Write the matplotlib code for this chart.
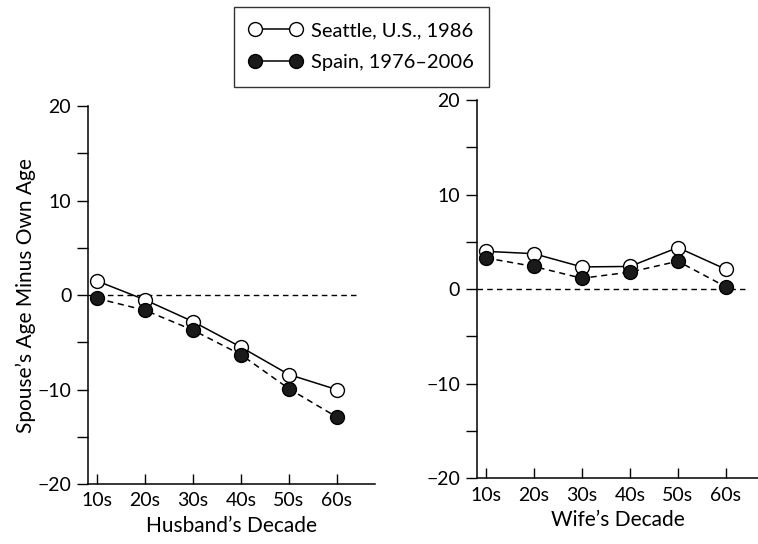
import matplotlib.pyplot as plt
from matplotlib.lines import Line2D
from matplotlib.ticker import MultipleLocator

plt.rcParams['font.family'] = ['Lato', 'DejaVu Sans']

decades = ['10s', '20s', '30s', '40s', '50s', '60s']

# husbands (left panel)
seattle_husband = [1.5, -0.5, -2.8, -5.5, -8.4, -10.0]
spain_husband = [-0.35, -1.6, -3.7, -6.3, -9.9, -12.9]

# wives (right panel)
seattle_wife = [4.0, 3.75, 2.35, 2.4, 4.4, 2.1]
spain_wife = [3.3, 2.4, 1.15, 1.8, 2.95, 0.25]

fig = plt.figure(figsize=(7.58, 5.44), dpi=100)
ax1 = fig.add_axes([0.116, 0.110, 0.379, 0.695])
ax2 = fig.add_axes([0.629, 0.121, 0.371, 0.695])

x = list(range(len(decades)))


def draw(ax, seattle, spain, xlabel):
    ax.hlines(0, -0.19, 5.4, colors='black', linestyles=(0, (4, 3)), linewidth=1.0, zorder=1)
    ax.plot(x, seattle, '-', color='black', linewidth=1.1, marker='o', markersize=10,
            markerfacecolor='white', markeredgecolor='black', markeredgewidth=1.0, zorder=2)
    ax.plot(x, spain, color='black', linestyle=(0, (4, 3)), linewidth=1.1, zorder=3)
    ax.plot(x, spain, linestyle='none', marker='o', markersize=10,
            markerfacecolor='#1a1a1a', markeredgecolor='black', markeredgewidth=1.0, zorder=4)
    ax.set_xlim(-0.19, 5.8)
    ax.set_ylim(-20, 20)
    ax.set_xticks(x)
    ax.set_xticklabels(decades, fontsize=14)
    ax.yaxis.set_major_locator(MultipleLocator(10))
    ax.yaxis.set_minor_locator(MultipleLocator(5))
    ax.tick_params(axis='x', direction='in', length=7, width=1, pad=6)
    ax.tick_params(axis='y', which='both', direction='out', length=8, width=1, labelsize=14, pad=4)
    for s in ['top', 'right']:
        ax.spines[s].set_visible(False)
    for s in ['left', 'bottom']:
        ax.spines[s].set_linewidth(1.1)
    ax.set_xlabel(xlabel, fontsize=15, labelpad=5)


draw(ax1, seattle_husband, spain_husband, 'Husband\u2019s Decade')
draw(ax2, seattle_wife, spain_wife, 'Wife\u2019s Decade')
ax2.set_xlim(-0.19, 5.67)
ax1.set_ylabel('Spouse\u2019s Age Minus Own Age', fontsize=15, labelpad=1)

leg_seattle = Line2D([], [], color='black', linewidth=1.1, marker='o', markersize=10,
                     markerfacecolor='white', markeredgecolor='black')
leg_spain = Line2D([], [], color='black', linewidth=1.1, marker='o', markersize=10,
                   markerfacecolor='#1a1a1a', markeredgecolor='black')
leg = fig.legend([leg_seattle, leg_spain], ['Seattle, U.S., 1986', 'Spain, 1976\u20132006'],
                 loc='upper center', bbox_to_anchor=(0.477, 0.987), numpoints=2, handlelength=2.6,
                 handletextpad=0.45, fontsize=14.5, frameon=True, fancybox=False, edgecolor='black',
                 borderpad=0.75, labelspacing=0.75, borderaxespad=0)
leg.get_frame().set_linewidth(1.0)

fig.savefig('out.png', dpi=100)
